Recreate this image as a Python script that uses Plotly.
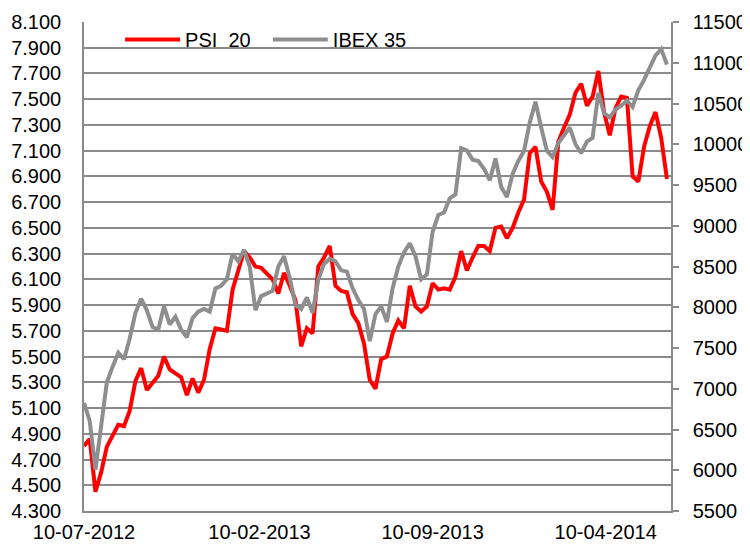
import pandas as pd
import plotly.graph_objects as go

# Weekly samples starting 10-07-2012
start_date = "2012-07-10"
n_points = 103

psi20 = [4805, 4860, 4450, 4600, 4800, 4880, 4970, 4960, 5080, 5310,
         5410, 5240, 5290, 5350, 5500, 5400, 5370, 5340, 5200, 5330,
         5220, 5320, 5560, 5720, 5710, 5700, 6020, 6170, 6320, 6270,
         6200, 6190, 6150, 6100, 5990, 6150, 6050, 5940, 5580, 5720,
         5680, 6200, 6270, 6360, 6050, 6010, 6000, 5830, 5760, 5600,
         5320, 5250, 5480, 5500, 5680, 5780, 5720, 6050, 5890, 5850,
         5890, 6070, 6020, 6030, 6020, 6120, 6320, 6170, 6270, 6360,
         6360, 6320, 6500, 6510, 6420, 6500, 6620, 6720, 7080, 7130,
         6860, 6780, 6640, 7170, 7280, 7380, 7550, 7620, 7450, 7520,
         7720, 7400, 7220, 7430, 7520, 7510, 6900, 6860, 7130, 7290,
         7400, 7200, 6880]

ibex35 = [6826, 6605, 6005, 6526, 7079, 7268, 7442, 7363, 7616, 7932,
          8105, 7963, 7758, 7726, 8011, 7789, 7884, 7726, 7632, 7868,
          7947, 7979, 7947, 8232, 8263, 8342, 8658, 8563, 8705, 8500,
          7963, 8137, 8168, 8200, 8500, 8626, 8358, 8026, 7979, 8121,
          7932, 8342, 8532, 8595, 8563, 8453, 8437, 8232, 8089, 7979,
          7584, 7916, 8011, 7821, 8232, 8500, 8674, 8784, 8626, 8342,
          8405, 8926, 9132, 9163, 9337, 9384, 9953, 9921, 9811, 9795,
          9700, 9558, 9826, 9479, 9353, 9637, 9795, 9921, 10268, 10521,
          10205, 9921, 9842, 10016, 10111, 10205, 10000, 9890, 10032, 10079,
          10632, 10379, 10332, 10426, 10474, 10537, 10458, 10663, 10789, 10947,
          11089, 11168, 10979]

x_tick_dates = ["2012-07-10", "2013-02-10", "2013-09-10", "2014-04-10"]
x_tick_labels = ["10-07-2012", "10-02-2013", "10-09-2013", "10-04-2014"]
x_range = ["2012-07-10", "2014-06-29"]

dates = pd.date_range(start_date, periods=n_points, freq="7D")

GRID = "#8a8a8a"
FONT = dict(family="Liberation Sans, Arial, sans-serif", size=20, color="#000000")

fig = go.Figure()
fig.add_trace(go.Scatter(x=dates, y=psi20, name="PSI \u00a020", mode="lines",
                         line=dict(color="#ff0000", width=4), yaxis="y",
                         legend="legend"))
fig.add_trace(go.Scatter(x=dates, y=ibex35, name="IBEX 35", mode="lines",
                         line=dict(color="#8e8e8e", width=4), yaxis="y2",
                         legend="legend2"))

fig.update_layout(
    width=750, height=544,
    margin=dict(l=76, r=87, t=14, b=41),
    paper_bgcolor="white", plot_bgcolor="white",
    font=FONT,
    separators=",.",
    xaxis=dict(type="date", range=x_range, tickvals=x_tick_dates, ticktext=x_tick_labels,
               showgrid=False, showline=True, linecolor=GRID, linewidth=1.5,
               ticks="", zeroline=False, ticklabelstandoff=2, automargin=False),
    yaxis=dict(range=[4300, 8100], dtick=200, tick0=4300, tickformat=",d",
               showgrid=True, gridcolor=GRID, gridwidth=1.5,
               showline=True, linecolor=GRID, linewidth=1.5,
               ticks="", zeroline=False, ticklabelstandoff=17, automargin=False),
    yaxis2=dict(range=[5500, 11500], dtick=500, tick0=5500, tickformat="d",
                overlaying="y", side="right", showgrid=False,
                showline=True, linecolor=GRID, linewidth=1.5,
                ticks="outside", ticklen=6, tickcolor=GRID, tickwidth=1.5,
                zeroline=False, ticklabelstandoff=10, automargin=False),
    legend=dict(x=0.0615, y=1.004, xanchor="left", yanchor="top", itemwidth=55,
                bgcolor="rgba(0,0,0,0)", font=FONT),
    legend2=dict(x=0.3132, y=1.004, xanchor="left", yanchor="top", itemwidth=55,
                 bgcolor="rgba(0,0,0,0)", font=FONT),
    showlegend=True,
)

fig.write_html("out.html")
